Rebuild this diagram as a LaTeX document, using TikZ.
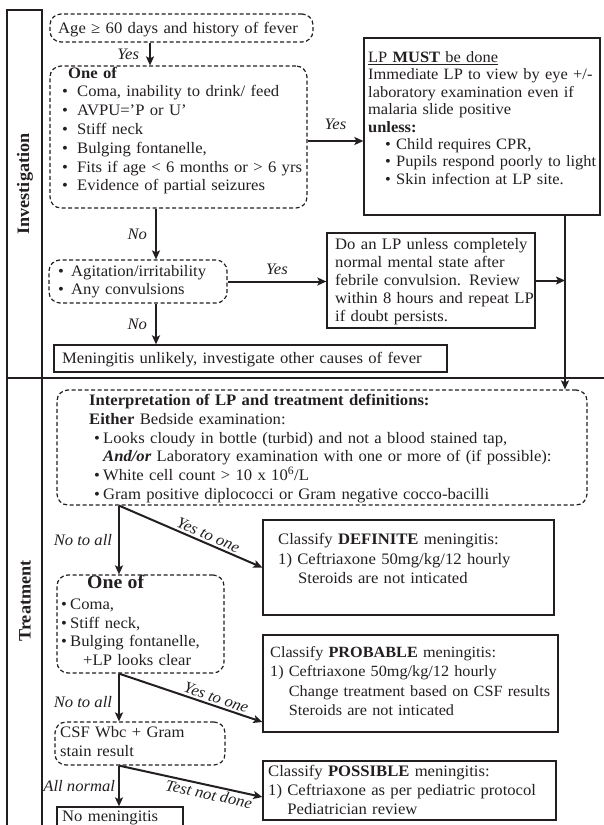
\documentclass[tikz,border=0pt]{standalone}
\usepackage{fontspec}
\setmainfont{Liberation Serif}[FakeStretch=1.04]
\usetikzlibrary{arrows.meta}
\definecolor{ink}{RGB}{35,31,32}
% bullet set in a box of fixed width
\newcommand{\bitem}[1][15pt]{\makebox[#1][l]{\textbullet}}

\begin{document}
\begin{tikzpicture}[x=1pt,y=-1pt,
  every node/.style={text=ink},
  frame/.style={draw=ink, line width=2pt},
  sbox/.style={draw=ink, line width=1.3pt, inner sep=0pt},
  dbox/.style={draw=ink, line width=1.2pt, dash pattern=on 4pt off 2.5pt,
               rounded corners=11pt, inner sep=0pt},
  txt/.style={anchor=base west, inner sep=0pt, align=left,
              font=\fontsize{16}{18.8}\selectfont},
  arr/.style={draw=ink, line width=2pt, -{Stealth[length=9pt,width=8pt,inset=2pt]}},
  lbl/.style={font=\fontsize{16}{18}\selectfont\itshape, inner sep=2pt},
  side/.style={font=\fontsize{17.5}{20}\selectfont\bfseries, rotate=90}
]
\useasboundingbox (0,0) rectangle (604,825);
\clip (0,0) rectangle (604,825);

% ---------- frame with the two section labels ----------
\draw[frame] (7,825) -- (7,10) -- (42,10) -- (42,825);
\draw[frame] (7,378) -- (604,378);
\node[side] (inv) at (25,184) {Investigation};
\node[side] (trt) at (25,601) {Treatment};

% helper coordinates for connector positions
\coordinate (ax) at (150,0);
\coordinate (bx) at (156,0);
\coordinate (sx) at (119,0);
\coordinate (rail) at (565,0);
\coordinate (ylp) at (0,141);
\coordinate (e2) at (0,722);
\coordinate (e3) at (0,797);

% ---------- investigation ----------
\node[dbox, minimum width=263, minimum height=28] (age) at (181.5,28) {};
\node[txt, text width=250pt] (age-t) at (58,33) {Age ≥ 60 days and history of fever};

\node[dbox, minimum width=257, minimum height=142] (oneof) at (178.5,137) {};
\node[txt, text width=243pt] (oneof-t) at (62,78) {\hspace*{6pt}\textbf{One of}\\
  \bitem Coma, inability to drink/ feed\\
  \bitem AVPU='P or U'\\
  \bitem Stiff neck\\
  \bitem Bulging fontanelle,\\
  \bitem Fits if age < 6 months or > 6 yrs\\
  \bitem Evidence of partial seizures};

\node[sbox, minimum width=236, minimum height=177] (lp) at (482,126.5) {};
\node[txt, text width=260pt, font=\fontsize{15.8}{17.4}\selectfont] (lp-t) at (368,62.5) {\underline{LP \textbf{MUST} be done}\\
  Immediate LP to view by eye +/-\\
  laboratory examination even if\\
  malaria slide positive\\
  \textbf{unless:}\\
  \hspace*{17pt}\textbullet\ Child requires CPR,\\
  \hspace*{17pt}\textbullet\ Pupils respond poorly to light\\
  \hspace*{17pt}\textbullet\ Skin infection at LP site.};

\node[dbox, minimum width=178, minimum height=43] (agit) at (138,281.5) {};
\node[txt, text width=167pt, font=\fontsize{16}{18}\selectfont] (agit-t) at (58,276.5) {\bitem[13pt]Agitation/irritability\\
  \bitem[13pt]Any convulsions};

\node[sbox, minimum width=208, minimum height=95] (dolp) at (431,280.5) {};
\node[txt, text width=225pt, font=\fontsize{16}{18}\selectfont] (dolp-t) at (335,249.5) {Do an LP unless completely\\
  normal mental state after\\
  febrile convulsion. Review\\
  within 8 hours and repeat LP\\
  if doubt persists.};

\node[sbox, minimum width=393, minimum height=27] (unlikely) at (250.5,358.5) {};
\node[txt, text width=383pt] (unlikely-t) at (62,363.5) {Meningitis unlikely, investigate other causes of fever};

\draw[arr] (age.south -| ax) -- node[lbl, left=8pt] {Yes} (oneof.north -| ax);
\draw[arr] (oneof.east |- ylp) -- node[lbl, above=8pt] {Yes} (lp.west |- ylp);
\draw[arr] (oneof.south -| bx) -- node[lbl, left=6pt] {No} (agit.north -| bx);
\draw[arr] (agit.east) -- node[lbl, above=4pt] {Yes} (agit.east -| dolp.west);
\draw[arr] (agit.south -| bx) -- node[lbl, left=6pt] {No} (unlikely.north -| bx);
\draw[arr] (dolp.east) -- (dolp.east -| rail);

% ---------- treatment ----------
\node[dbox, minimum width=530, minimum height=115] (interp) at (322,447.5) {};
\node[txt, text width=495pt] (interp-t) at (89,405.5) {\textbf{Interpretation of LP and treatment definitions:}\\
  \textbf{Either} Bedside examination:\\
  \hspace*{5pt}\bitem[9pt]Looks cloudy in bottle (turbid) and not a blood stained tap,\\
  \hspace*{14pt}\textbf{\textit{And/or}} Laboratory examination with one or more of (if possible):\\
  \hspace*{5pt}\bitem[9pt]White cell count > 10 x 10\textsuperscript{6}/L\\
  \hspace*{5pt}\bitem[9pt]Gram positive diplococci or Gram negative cocco-bacilli};

\draw[arr] (lp.south -| rail) -- (interp.north -| rail);

\node[sbox, minimum width=291, minimum height=95] (definite) at (408.5,567.5) {};
\node[txt, text width=274pt, font=\fontsize{16}{19.5}\selectfont] (definite-t) at (278,544.5) {Classify \textbf{DEFINITE} meningitis:\\
  1) Ceftriaxone 50mg/kg/12 hourly\\
  \hspace*{20pt}Steroids are not inticated};

\node[dbox, minimum width=167, minimum height=98] (oneof2) at (140.5,624) {};
\node[txt, text width=148pt, font=\fontsize{16}{18.5}\selectfont] (oneof2-t) at (61,588) {\hspace*{26pt}{\fontsize{19}{19}\selectfont\textbf{One of}}\\[3pt]
  \bitem[9pt]Coma,\\
  \bitem[9pt]Stiff neck,\\
  \bitem[9pt]Bulging fontanelle,\\
  \hspace*{22pt}+LP looks clear};

\node[sbox, minimum width=295, minimum height=97] (probable) at (410.5,683.5) {};
\node[txt, text width=330pt, font=\fontsize{15.6}{19.3}\selectfont] (probable-t) at (270,657.5) {Classify \textbf{PROBABLE} meningitis:\\
  1) Ceftriaxone 50mg/kg/12 hourly\\
  \phantom{1) }Change treatment based on CSF results\\
  \phantom{1) }Steroids are not inticated};

\node[dbox, minimum width=170, minimum height=43] (csf) at (140,743.5) {};
\node[txt, text width=150pt, font=\fontsize{16}{19}\selectfont] (csf-t) at (60,737.5) {CSF Wbc + Gram\\ stain result};

\node[sbox, minimum width=293, minimum height=59] (possible) at (409.5,790.5) {};
\node[txt, text width=330pt, font=\fontsize{16}{19}\selectfont] (possible-t) at (268,776.5) {Classify \textbf{POSSIBLE} meningitis:\\
  1) Ceftriaxone as per pediatric protocol\\
  \phantom{1) }Pediatrician review};

\node[sbox, minimum width=126, minimum height=30] (nomen) at (120,822) {};
\node[txt, text width=118pt] (nomen-t) at (62,821.5) {No meningitis};

\draw[arr] (interp.south -| sx) -- node[lbl, left=4pt] {No to all} (oneof2.north -| sx);
\draw[arr] (interp.south -| sx) -- node[lbl, sloped, above, pos=0.6] {Yes to one} (definite.west);
\draw[arr] (oneof2.south -| sx) -- node[lbl, left=4pt, pos=0.6] {No to all} (csf.north -| sx);
\draw[arr] (oneof2.south -| sx) -- node[lbl, sloped, above, pos=0.66] {Yes to one} (probable.west |- e2);
\draw[arr] (csf.south -| sx) -- node[lbl, left=1pt] {All normal} (nomen.north -| sx);
\draw[arr] (csf.south -| sx) -- node[lbl, sloped, below, pos=0.64] {Test not done} (possible.west |- e3);
\end{tikzpicture}
\end{document}
